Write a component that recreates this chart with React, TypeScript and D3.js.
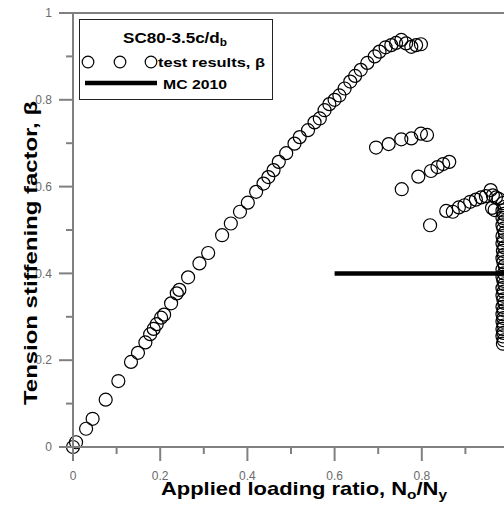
import React from 'react';
import * as d3 from 'd3';

const W = 504, H = 508;

// monotonic envelope: beta vs No/Ny
const envelope: [number, number][] = [
  [0, 0], [0.007, 0.011], [0.03, 0.042], [0.045, 0.065], [0.075, 0.109], [0.104, 0.152],
  [0.133, 0.196], [0.149, 0.217], [0.166, 0.241], [0.177, 0.26], [0.185, 0.272], [0.192, 0.283],
  [0.202, 0.298], [0.209, 0.305], [0.225, 0.331], [0.238, 0.354], [0.244, 0.362], [0.264, 0.391],
  [0.29, 0.423], [0.31, 0.447], [0.342, 0.488], [0.362, 0.515], [0.383, 0.542], [0.401, 0.563],
  [0.42, 0.588], [0.437, 0.607], [0.448, 0.622], [0.46, 0.638], [0.472, 0.657], [0.489, 0.677],
  [0.508, 0.699], [0.52, 0.714], [0.539, 0.73], [0.554, 0.748], [0.566, 0.757], [0.577, 0.776],
  [0.588, 0.79], [0.6, 0.8], [0.611, 0.81], [0.623, 0.826], [0.636, 0.842], [0.647, 0.855],
  [0.66, 0.869], [0.675, 0.885], [0.692, 0.9], [0.703, 0.911], [0.717, 0.921], [0.73, 0.926],
  [0.741, 0.931], [0.753, 0.938], [0.764, 0.93], [0.776, 0.922], [0.787, 0.926], [0.798, 0.928],
];

// reloading branches
const reload1: [number, number][] = [
  [0.695, 0.69], [0.724, 0.698], [0.753, 0.709], [0.776, 0.711], [0.798, 0.722], [0.812, 0.719],
];
const reload2: [number, number][] = [
  [0.754, 0.594], [0.792, 0.623], [0.821, 0.636], [0.836, 0.645], [0.849, 0.652], [0.863, 0.657],
];
const reload3: [number, number][] = [
  [0.819, 0.511], [0.856, 0.544], [0.871, 0.542], [0.885, 0.552], [0.898, 0.557], [0.911, 0.565],
  [0.924, 0.57], [0.936, 0.575], [0.947, 0.578], [0.958, 0.592], [0.963, 0.58], [0.97, 0.575],
  [0.976, 0.572], [0.961, 0.551], [0.967, 0.546],
];

// drop near yield
const descent: [number, number][] = [
  [0.986, 0.562], [0.989, 0.553], [0.985, 0.545], [0.988, 0.537], [0.985, 0.528], [0.989, 0.52],
  [0.985, 0.511], [0.987, 0.503], [0.99, 0.494], [0.985, 0.486], [0.988, 0.477], [0.985, 0.469],
  [0.989, 0.46], [0.986, 0.452], [0.988, 0.443], [0.985, 0.435], [0.987, 0.426], [0.99, 0.418],
  [0.985, 0.409], [0.988, 0.4], [0.985, 0.392], [0.987, 0.383], [0.989, 0.375], [0.985, 0.366],
  [0.988, 0.358], [0.985, 0.349], [0.987, 0.34], [0.989, 0.332], [0.985, 0.323], [0.988, 0.315],
  [0.985, 0.306], [0.987, 0.297], [0.985, 0.289], [0.988, 0.28], [0.985, 0.272], [0.987, 0.263],
  [0.985, 0.255], [0.988, 0.246], [0.986, 0.238],
];

// MC 2010 line
const mcX = [0.6, 1.0];
const mcBeta = 0.4;

const xMajor = [0, 0.2, 0.4, 0.6, 0.8];
const xMinor = [0.1, 0.3, 0.5, 0.7, 0.9];
const yMajor = [0, 0.2, 0.4, 0.6, 0.8, 1];
const yMinor = [0.1, 0.3, 0.5, 0.7, 0.9];

const GRAY = '#808080';
const FONT = '"Liberation Sans", Arial, sans-serif';

export default function App() {
  const x = d3.scaleLinear().domain([0, 1]).range([73, 509]);
  const y = d3.scaleLinear().domain([0, 1]).range([447, 13]);
  const x0 = x(0), y0 = y(0);
  const pts = [...envelope, ...reload1, ...reload2, ...reload3, ...descent];
  const bold = { fontFamily: FONT, fontWeight: 'bold' as const };

  return (
    <svg width={W} height={H} style={{ position: 'absolute', left: 0, top: 0, background: '#fff' }}>
      {/* tick labels */}
      <g fill="#6a6a6a" fontFamily={FONT} fontSize={12}>
        {yMajor.map(v => (
          <text key={'yl' + v} x={x0 - 21} y={y(v)} dy="0.35em" textAnchor="end">{v}</text>
        ))}
        {xMajor.map(v => (
          <text key={'xl' + v} x={x(v)} y={y0 + 33} textAnchor="middle">{v}</text>
        ))}
      </g>

      {/* MC 2010 */}
      <line x1={x(mcX[0])} x2={x(mcX[1])} y1={y(mcBeta)} y2={y(mcBeta)} stroke="#000" strokeWidth={4.5} />

      {/* test results */}
      <g fill="none" stroke="#000" strokeWidth={1.2}>
        {pts.map((d, i) => <circle key={i} cx={x(d[0])} cy={y(d[1])} r={6.5} />)}
      </g>

      {/* axes, frame */}
      <line x1={x0} x2={x0} y1={y(1)} y2={y0 + 14} stroke={GRAY} strokeWidth={2} />
      <line x1={x0 - 14} x2={W} y1={y0} y2={y0} stroke={GRAY} strokeWidth={2} />
      <line x1={x0 - 14} x2={W} y1={y(1)} y2={y(1)} stroke={GRAY} strokeWidth={2} />
      {yMajor.map(v => <line key={'ya' + v} x1={x0 - 14} x2={x0} y1={y(v)} y2={y(v)} stroke={GRAY} strokeWidth={2} />)}
      {yMinor.map(v => <line key={'yi' + v} x1={x0 - 7} x2={x0} y1={y(v)} y2={y(v)} stroke={GRAY} strokeWidth={2} />)}
      {xMajor.map(v => <line key={'xa' + v} x1={x(v)} x2={x(v)} y1={y0} y2={y0 + 14} stroke={GRAY} strokeWidth={2} />)}
      {xMinor.map(v => <line key={'xi' + v} x1={x(v)} x2={x(v)} y1={y0} y2={y0 + 7} stroke={GRAY} strokeWidth={2} />)}

      {/* legend */}
      <g>
        <rect x={79.5} y={19.5} width={193} height={80} fill="#fff" stroke="#222" strokeWidth={1} />
        <text x={123} y={42.5} textLength={104} lengthAdjust="spacingAndGlyphs" {...bold} fontSize={14.5}>
          <tspan>SC80-3.5c/d</tspan>
          <tspan dy={3} fontSize={10}>b</tspan>
        </text>
        {[88, 120, 151].map(cx => (
          <circle key={cx} cx={cx} cy={62} r={5.8} fill="none" stroke="#000" strokeWidth={1.2} />
        ))}
        <text x={158} y={67} textLength={107} lengthAdjust="spacingAndGlyphs" {...bold} fontSize={13.5}>
          test results, β
        </text>
        <line x1={85} x2={157} y1={83} y2={83} stroke="#000" strokeWidth={4.5} />
        <text x={163} y={89} textLength={64} lengthAdjust="spacingAndGlyphs" {...bold} fontSize={13.5}>
          MC 2010
        </text>
      </g>

      {/* axis titles */}
      <text x={161} y={495} textLength={286} lengthAdjust="spacingAndGlyphs" {...bold} fontSize={18.5}>
        <tspan>Applied loading ratio, N</tspan>
        <tspan dy={4} fontSize={13}>o</tspan>
        <tspan dy={-4}>/N</tspan>
        <tspan dy={4} fontSize={13}>y</tspan>
      </text>
      <text transform={`translate(36.5,${(405 + 101) / 2}) rotate(-90)`} textAnchor="middle"
        textLength={304} lengthAdjust="spacingAndGlyphs" {...bold} fontSize={18.5}>
        Tension stiffening factor, β
      </text>
    </svg>
  );
}
